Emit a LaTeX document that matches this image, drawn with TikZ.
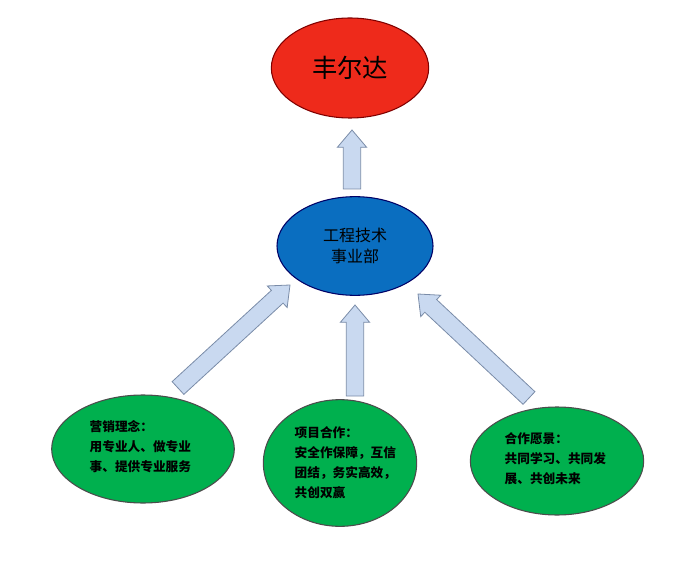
\documentclass[tikz,border=0pt]{standalone}
\usepackage{fontspec}
\setmainfont{Noto Sans CJK SC}
\usepackage{tikz}
\usetikzlibrary{calc,shapes.geometric}
\definecolor{fdred}{HTML}{EE2A1B}
\definecolor{fdblue}{HTML}{0A6EC0}
\definecolor{fdgreen}{HTML}{00B04E}
\definecolor{arrfill}{HTML}{C9D9F0}
\definecolor{arrline}{HTML}{7A8CA8}
\newcommand{\blockarrow}[2]{%
  \draw[block arrow] let \p1=($(#2)-(#1)$),\n1={atan2(\y1,\x1)},\n2={veclen(\x1,\y1)} in
   ($(#1)+(\n1+90:6.5pt)$) -- ($(#1)+(\n1:\n2-13pt)+(\n1+90:6.5pt)$)
   -- ($(#1)+(\n1:\n2-13pt)+(\n1+90:11pt)$) -- (#2)
   -- ($(#1)+(\n1:\n2-13pt)+(\n1-90:11pt)$) -- ($(#1)+(\n1:\n2-13pt)+(\n1-90:6.5pt)$)
   -- ($(#1)+(\n1-90:6.5pt)$) -- cycle;}
\begin{document}
\begin{tikzpicture}[x=0.75pt,y=-0.75pt,
  blob/.style={ellipse,draw,line width=0.8pt,inner sep=0pt},
  block arrow/.style={fill=arrfill,draw=arrline,line width=0.6pt},
  idea/.style={blob,fill=fdgreen,draw=black!70,minimum width=#1},
  idea text/.style={font=\bfseries\fontsize{9.5}{15}\selectfont,align=left}]
  \useasboundingbox (0,0) rectangle (684,566);
  \node[blob,fill=fdred,draw=red!50!black,minimum width=118pt,minimum height=75pt,
        font=\fontsize{19}{22}\selectfont] (fed) at (350,68) {丰尔达};
  \node[blob,fill=fdblue,draw=blue!40!black,minimum width=117pt,minimum height=74pt,
        font=\fontsize{12}{16}\selectfont,align=center] (dept) at (355,246) {工程技术\\事业部};
  \node[idea=137pt,minimum height=81pt] (sell) at (143,449) {};
  \node[idea=115pt,minimum height=95pt] (proj) at (340,463) {};
  \node[idea=130pt,minimum height=81pt] (coop) at (557,461) {};
  \node[idea text,anchor=north west] (sellt) at (85,416) {营销理念：\\用专业人、做专业\\事、提供专业服务};
  \node[idea text,anchor=north west] (projt) at (290,422) {项目合作：\\安全作保障，互信\\团结，务实高效，\\共创双赢};
  \node[idea text,anchor=north west] (coopt) at (500,428) {合作愿景：\\共同学习、共同发\\展、共创未来};

  \coordinate (up1) at (352,189);  \coordinate (up2) at (352,130);
  \coordinate (l1) at (178,388);   \coordinate (l2) at (290,285);
  \coordinate (m1) at (355,396);   \coordinate (m2) at (355,305);
  \coordinate (r1) at (529,398);   \coordinate (r2) at (418,294);
  \blockarrow{up1}{up2}
  \blockarrow{l1}{l2}
  \blockarrow{m1}{m2}
  \blockarrow{r1}{r2}
\end{tikzpicture}
\end{document}
